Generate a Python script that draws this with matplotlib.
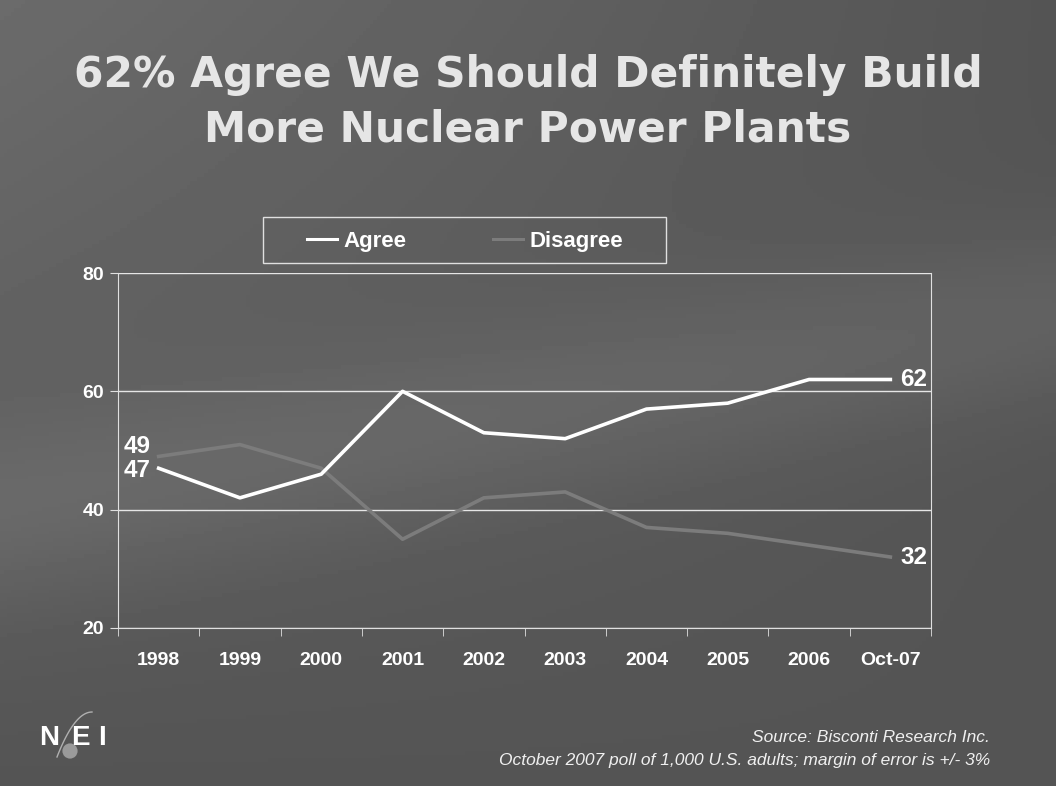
import numpy as np
import matplotlib.pyplot as plt
from matplotlib.patches import Rectangle

categories = ['1998', '1999', '2000', '2001', '2002', '2003', '2004', '2005', '2006', 'Oct-07']
agree = [47, 42, 46, 60, 53, 52, 57, 58, 62, 62]
disagree = [49, 51, 47, 35, 42, 43, 37, 36, 34, 32]

ARIAL = ['Liberation Sans', 'DejaVu Sans']
W, H = 1056, 786

fig = plt.figure(figsize=(10.56, 7.86), dpi=100)

# slide background: grey gradient
bg = fig.add_axes([0, 0, 1, 1], zorder=-1)
yy, xx = np.mgrid[0:1:200j, 0:1:300j]
shade = 0.33 + 0.09 * (1 - xx) * yy + 0.05 * np.exp(-((yy - 0.35 - 0.25 * xx) / 0.12) ** 2)
bg.imshow(shade, cmap='gray', vmin=0, vmax=1, aspect='auto', extent=[0, W, 0, H])
bg.set_xlim(0, W)
bg.set_ylim(H, 0)
bg.axis('off')

fig.text(0.5, 0.905, '62% Agree We Should Definitely Build', ha='center', va='center',
         fontsize=30.5, fontweight='bold', color='#e6e6e6')
fig.text(0.5, 0.835, 'More Nuclear Power Plants', ha='center', va='center',
         fontsize=30.5, fontweight='bold', color='#e6e6e6')

ax = fig.add_axes([118 / W, 1 - 628 / H, 813 / W, 355 / H])
ax.patch.set_alpha(0)
x = np.arange(len(categories))
ax.plot(x, disagree, color='#7c7c7c', lw=2.6, label='Disagree', zorder=3)
ax.plot(x, agree, color='white', lw=2.6, label='Agree', zorder=4)

ax.set_xlim(-0.5, len(categories) - 0.5)
ax.set_ylim(20, 80)
ax.set_yticks([20, 40, 60, 80])
ax.set_xticks(x)
ax.set_xticklabels(categories)
ax.set_xticks(np.arange(-0.5, len(categories)), minor=True)
ax.tick_params(axis='x', which='major', length=0, pad=17)
ax.tick_params(axis='x', which='minor', length=6, color='#e0e0e0', direction='out')
ax.tick_params(axis='y', length=6, color='#e0e0e0', direction='out', pad=4)
for lab in ax.get_xticklabels() + ax.get_yticklabels():
    lab.set_color('white')
    lab.set_fontweight('bold')
    lab.set_fontsize(14)
    lab.set_family(ARIAL)
ax.grid(axis='y', color='#e6e6e6', lw=1)
for s in ['left', 'bottom', 'right']:
    ax.spines[s].set_color('#e0e0e0')
ax.spines['top'].set_visible(False)

lab_kw = dict(fontsize=17.5, fontweight='bold', color='white', family=ARIAL)
ax.text(-0.1, agree[0] - 0.3, str(agree[0]), ha='right', va='center', **lab_kw)
ax.text(-0.1, disagree[0] + 1.6, str(disagree[0]), ha='right', va='center', **lab_kw)
ax.text(9.12, agree[-1], str(agree[-1]), ha='left', va='center', **lab_kw)
ax.text(9.12, disagree[-1], str(disagree[-1]), ha='left', va='center', **lab_kw)

# legend box drawn separately so its padding can match the slide
bg.add_patch(Rectangle((263, 217), 403, 46, fill=False, edgecolor='#e0e0e0', lw=1))
h, l = ax.get_legend_handles_labels()
leg = fig.legend(h[::-1], l[::-1], loc='center', bbox_to_anchor=(465 / W, 1 - 241 / H),
                 ncol=2, frameon=False, handlelength=1.35, handletextpad=0.3,
                 columnspacing=3.9, borderpad=0, borderaxespad=0,
                 prop={'weight': 'bold', 'size': 16, 'family': ARIAL})
for t in leg.get_texts():
    t.set_color('white')
for ln in leg.get_lines():
    ln.set_linewidth(2.2)

foot_kw = dict(ha='right', va='center', fontsize=12.5, style='italic', color='#f0f0f0',
               family=['Liberation Sans Narrow', 'Liberation Sans', 'DejaVu Sans'])
fig.text(990 / W, 1 - 737 / H, 'Source: Bisconti Research Inc.', **foot_kw)
fig.text(990 / W, 1 - 760 / H,
         'October 2007 poll of 1,000 U.S. adults; margin of error is +/- 3%', **foot_kw)

# NEI logo
t = np.linspace(0, 1, 40)
bg.plot(92 - 35 * t ** 0.8, 712 + 45 * t ** 1.6, color='#b0b0b0', lw=1)
bg.scatter([70], [751], s=120, color='#9a9a9a', edgecolor='none')
for ch, cx in zip('NEI', [49, 80, 102]):
    fig.text(cx / W, 1 - 738 / H, ch, ha='center', va='center', fontsize=20,
             fontweight='bold', color='white', family=ARIAL)

fig.savefig('out.png', dpi=100)
